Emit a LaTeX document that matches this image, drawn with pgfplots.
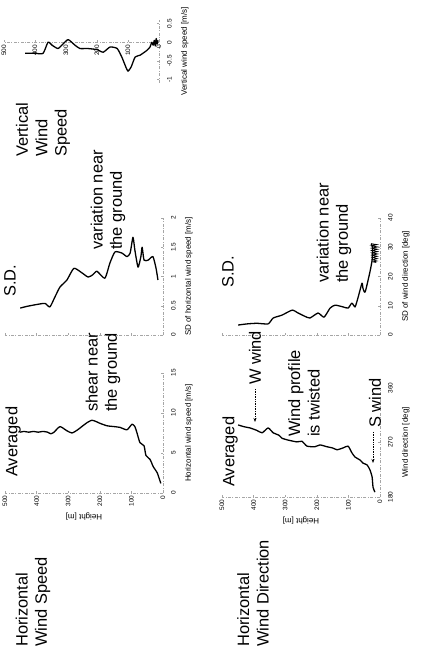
\documentclass[border=0pt]{standalone}
\usepackage{fontspec}
\setmainfont{Liberation Sans}
\usepackage{pgfplots}
\usetikzlibrary{arrows.meta}
\pgfplotsset{compat=1.18}
\pgfplotsset{
 panel/.style={
  scale only axis, x dir=reverse, xmin=0, xmax=500,
  axis x line*=bottom, axis y line*=right,
  axis line style={gray!70, line width=0.5pt, dash pattern=on 3pt off 1.5pt on 0.8pt off 1.5pt, -},
  tick style={gray!70, line width=0.4pt},
  major tick length=2bp,
  tick align=inside,
  xtick={0,100,...,500},
  ticklabel style={font=\fontsize{6.5}{7}\selectfont, inner sep=1.5pt},
  xticklabel style={rotate=90, anchor=east, inner xsep=2.5bp},
  yticklabel style={rotate=90, anchor=north, inner ysep=8bp},
  label style={font=\fontsize{8}{9}\selectfont},
  xlabel style={rotate=180, anchor=south},
  ylabel style={anchor=north, inner ysep=1bp},
  /pgf/number format/assume math mode=true,
  hide obscured x ticks=false, hide obscured y ticks=false,
  clip=false,
 },
 prof/.style={black, line width=1.3pt, line join=round, smooth, tension=0.35, mark=none},
}
\tikzset{ann/.style={rotate=90, anchor=west, align=left, font=\fontsize{16.5}{19.5}\selectfont, inner sep=0pt}}
\begin{document}
\begin{tikzpicture}[x=1bp,y=1bp]
\useasboundingbox (0,0) rectangle (420,661);
% Panel A: horizontal wind speed, averaged
\begin{axis}[panel, at={(163bp,168bp)}, anchor=south east, width=158bp, height=120bp,
  ymin=0, ymax=15, ytick={0,5,10,15},
  xlabel={Height [m]}, ylabel={Horizontal wind speed [m/s]}]
\addplot[prof] coordinates {(452,7.6) (440,7.7) (425,7.6) (410,7.7) (395,7.6) (380,7.7) (365,7.6) (355,7.4) (345,7.6) (326,8.3) (305,7.8) (288,7.5) (270,7.9) (257,8.3) (240,8.8) (225,9.1) (210,8.9) (199,8.7) (177,8.4) (155,8.3) (136,8.2) (114,7.9) (98,8.6) (89,8.3) (83,7.6) (73,6.3) (60,5.9) (54,4.7) (41,4.2) (31,3.3) (18,2.5) (7,1.2)};
\end{axis}
% Panel B: SD of horizontal wind speed
\begin{axis}[panel, at={(163bp,326bp)}, anchor=south east, width=158bp, height=117bp,
  ymin=0, ymax=2, ytick={0,0.5,1,1.5,2}, xticklabels={},
  ylabel={SD of horizontal wind speed [m/s]}]
\addplot[prof] coordinates {(452,0.46) (430,0.49) (411,0.51) (390,0.53) (373,0.54) (358,0.48) (342,0.65) (326,0.82) (304,0.94) (282,1.14) (256,1.06) (237,0.99) (222,1.03) (209,1.09) (184,0.97) (168,1.23) (152,1.42) (130,1.40) (114,1.34) (104,1.40) (95,1.67) (89,1.45) (79,1.16) (70,1.34) (66,1.50) (60,1.28) (47,1.28) (32,1.34) (22,1.14) (16,0.94)};
\end{axis}
% Panel C: vertical wind speed
\begin{axis}[panel, at={(159bp,578bp)}, anchor=south east, width=155bp, height=63bp,
  axis x line*=middle,
  ymin=-1.1, ymax=0.6, ytick={-1,-0.5,0,0.5},
  ylabel={Vertical wind speed [m/s]}]
\addplot[prof] coordinates {(432,-0.3) (400,-0.3) (374,-0.3) (358,0.0) (345,-0.08) (326,-0.17) (310,-0.05) (293,0.07) (271,-0.08) (255,-0.17) (230,-0.17) (200,-0.2) (180,-0.27) (158,-0.13) (135,-0.17) (120,-0.4) (107,-0.67) (100,-0.78) (90,-0.67) (77,-0.4) (61,-0.35) (39,-0.22) (29,-0.13) (23,0) (19,-0.08) (15,0.05) (12,-0.1) (9,0.1) (6,-0.05) (3,0.05)};
\end{axis}
% Panel D: wind direction, averaged
\begin{axis}[panel, at={(380bp,164bp)}, anchor=south east, width=158bp, height=109bp,
  ymin=180, ymax=360, ytick={180,270,360},
  xlabel={Height [m]}, ylabel={Wind direction [deg]}]
\addplot[prof] coordinates {(449,299) (430,296) (411,294) (390,290) (373,286) (354,294) (338,286) (320,282) (310,277) (291,274) (263,271) (247,272) (231,264) (206,263) (190,266) (168,263) (150,261) (136,258) (117,261) (101,264) (89,253) (79,246) (63,241) (54,236) (41,233) (32,225) (25,213) (22,196) (16,188)};
\end{axis}
% Panel E: SD of wind direction
\begin{axis}[panel, at={(380bp,326bp)}, anchor=south east, width=158bp, height=117bp,
  ymin=0, ymax=40, ytick={0,10,20,30,40}, xticklabels={},
  ylabel={SD of wind direction [deg]}]
\addplot[prof] coordinates {(449,3.4) (420,3.8) (389,4.0) (354,3.8) (338,5.8) (310,6.8) (278,8.5) (259,7.5) (240,6.5) (222,5.8) (196,7.5) (177,6.1) (158,9.2) (142,10.2) (117,9.6) (101,9.2) (89,10.9) (79,9.6) (70,12.6) (57,17.7) (54,16) (47,14.7) (32,21.5) (25,25.6) (24,30) (28,31.2)};
\addplot[black, line width=0.8pt, mark=none] coordinates {(28,31.2) (10,30.9) (27,30.5) (8,30.1) (26,29.7) (8,29.3) (26,28.9) (8,28.5) (25,28.1) (8,27.7) (25,27.3) (9,26.9) (24,26.5) (9,26.1) (23,25.7) (10,25.3) (22,25) (12,24.8)};
\end{axis}
% annotations
\node[ann] at (33,14) {Horizontal\\Wind Speed};
\node[ann] at (253,14) {Horizontal\\Wind Direction};
\node[ann] at (13,184) {Averaged};
\node[ann] at (103,249) {shear near\\the ground};
\node[ann] at (10,364) {S.D.};
\node[ann] at (108,411) {variation near\\the ground};
\node[ann] at (43,504) {Vertical\\Wind\\Speed};
\node[ann] at (230,174) {Averaged};
\node[ann] at (255,276) {W wind};
\draw[densely dotted, line width=0.7pt, -{Stealth[length=4pt,width=3pt]}] (255,272) -- (255,239);
\node[ann] at (304,224) {Wind profile\\is twisted};
\node[ann] at (375,233) {S wind};
\draw[densely dotted, line width=0.7pt, -{Stealth[length=4pt,width=3pt]}] (373,229) -- (373,198);
\node[ann] at (228,373) {S.D.};
\node[ann] at (334,378) {variation near\\the ground};
\end{tikzpicture}
\end{document}
